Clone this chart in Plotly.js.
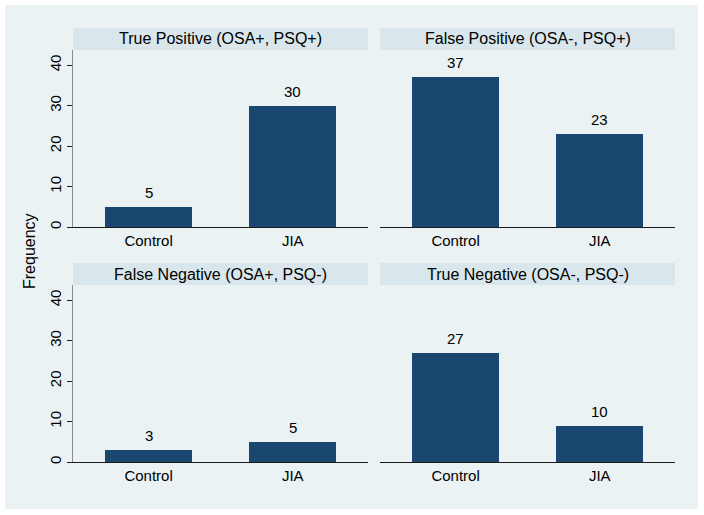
<!DOCTYPE html>
<html>
<head>
<meta charset="utf-8">
<script src="https://cdn.plot.ly/plotly-3.0.1.min.js"></script>
<style>html,body{margin:0;padding:0;background:#fff;}#chart{width:704px;height:515px;}</style>
</head>
<body>
<div id="chart"></div>
<script>
// ---- data ----
var categories = ["Control", "JIA"];
var panelTitles = ["True Positive (OSA+, PSQ+)", "False Positive (OSA-, PSQ+)", "False Negative (OSA+, PSQ-)", "True Negative (OSA-, PSQ-)"];
var truePositive = [5, 30];
var falsePositive = [37, 23];
var falseNegative = [3, 5];
var trueNegative = [27, 9];
var truePositiveLabels = ["5", "30"];
var falsePositiveLabels = ["37", "23"];
var falseNegativeLabels = ["3", "5"];
var trueNegativeLabels = ["27", "10"];
var yTicks = [0, 10, 20, 30, 40];
var yTitle = "Frequency";

var W = 704, H = 515;
var FONT = "Liberation Sans, Arial, Helvetica, sans-serif";
var BAR = "#1a476f", BG = "#eaf2f3", STRIP = "#d9e6eb";
function px(x){return x / W;}
function py(y){return 1 - y / H;}

var panels = [
  {vals: truePositive, labels: truePositiveLabels, x0: 73, x1: 368, y0: 50, y1: 227, left: true},
  {vals: falsePositive, labels: falsePositiveLabels, x0: 380, x1: 675, y0: 50, y1: 227, left: false},
  {vals: falseNegative, labels: falseNegativeLabels, x0: 73, x1: 368, y0: 285, y1: 462, left: true},
  {vals: trueNegative, labels: trueNegativeLabels, x0: 380, x1: 675, y0: 285, y1: 462, left: false}
];

var data = [], layout = {
  width: W, height: H, margin: {l: 0, r: 0, t: 0, b: 0},
  paper_bgcolor: "#ffffff", plot_bgcolor: "#ffffff",
  showlegend: false, bargap: 0,
  font: {family: FONT, size: 15, color: "#000"},
  shapes: [{type: "rect", xref: "paper", yref: "paper", x0: px(5), x1: px(698), y0: py(509), y1: py(5),
            fillcolor: BG, line: {width: 0}, layer: "below"}],
  annotations: [{text: yTitle, xref: "paper", yref: "paper", x: px(29), y: py(251), textangle: -90,
                 showarrow: false, font: {family: FONT, size: 16, color: "#000"}, xanchor: "center", yanchor: "middle"}]
};

panels.forEach(function(p, i){
  var n = i + 1, xa = "x" + (n === 1 ? "" : n), ya = "y" + (n === 1 ? "" : n);
  data.push({type: "bar", x: categories, y: p.vals,
             marker: {color: BAR, line: {width: 0}}, width: 0.6, xaxis: xa, yaxis: ya, hoverinfo: "none"});
  p.vals.forEach(function(v, j){
    layout.annotations.push({xref: xa, yref: ya, x: categories[j], y: v, text: p.labels[j],
      showarrow: false, xanchor: "center", yanchor: "bottom", yshift: 4,
      font: {family: FONT, size: 15, color: "#000"}});
  });
  layout["xaxis" + (n === 1 ? "" : n)] = {
    domain: [px(p.x0), px(p.x1)], anchor: ya, range: [-0.524, 1.522], type: "category",
    showline: true, linecolor: "#1a1a1a", linewidth: 1, ticks: "", showgrid: false, zeroline: false,
    tickfont: {family: FONT, size: 15, color: "#000"}, fixedrange: true
  };
  layout["yaxis" + (n === 1 ? "" : n)] = {
    domain: [py(p.y1), py(p.y0)], anchor: xa, range: [0, 43.75], tickvals: yTicks,
    showticklabels: p.left, ticks: p.left ? "outside" : "", ticklen: 5, tickcolor: "#1a1a1a",
    tickangle: -90, showline: p.left, linecolor: "#8c8c8c", linewidth: 1,
    showgrid: true, gridcolor: BG, gridwidth: 1, zeroline: false,
    tickfont: {family: FONT, size: 15, color: "#000"}, fixedrange: true
  };
  layout.shapes.push({type: "rect", xref: "paper", yref: "paper", x0: px(p.x0), x1: px(p.x1),
    y0: py(p.y0), y1: py(p.y0 - 22), fillcolor: STRIP, line: {width: 0}, layer: "below"});
  layout.annotations.push({text: panelTitles[i], xref: "paper", yref: "paper",
    x: (px(p.x0) + px(p.x1)) / 2, y: py(p.y0 - 11), showarrow: false, xanchor: "center", yanchor: "middle",
    font: {family: FONT, size: 16, color: "#000"}});
});

Plotly.newPlot("chart", data, layout, {displayModeBar: false, staticPlot: true});
</script>
</body>
</html>
